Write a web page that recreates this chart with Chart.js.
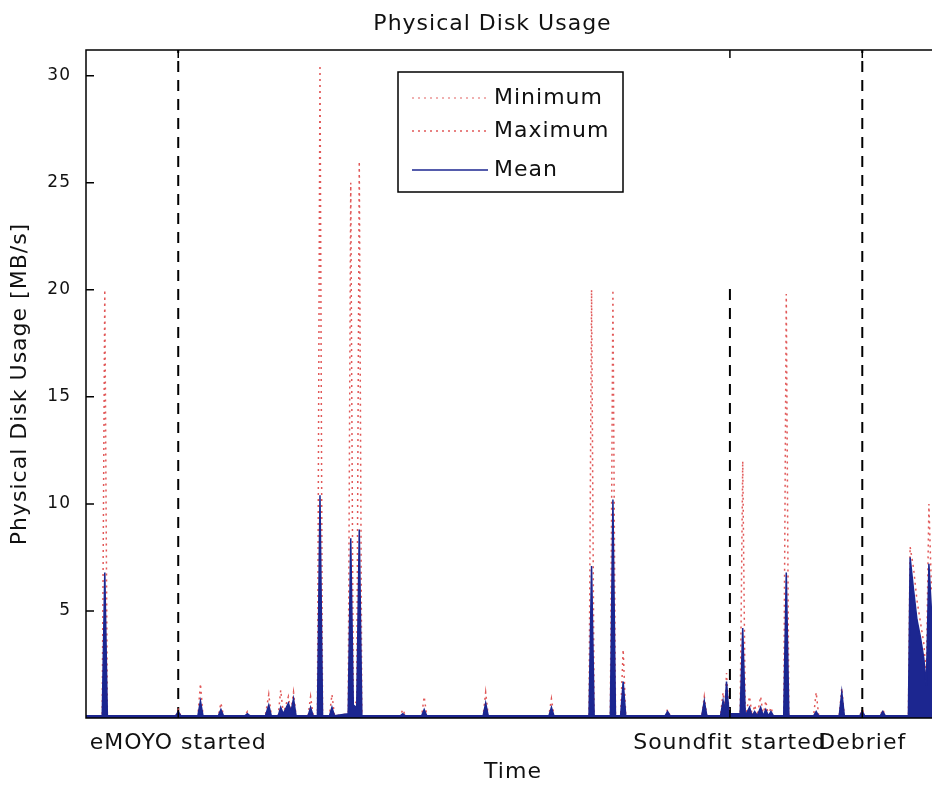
<!DOCTYPE html>
<html>
<head>
<meta charset="utf-8">
<title>Physical Disk Usage</title>
<script src="https://cdn.jsdelivr.net/npm/chart.js@4.4.1/dist/chart.umd.min.js"></script>
<style>
  html, body { margin: 0; padding: 0; background: #fff; overflow: hidden; }
  #wrap { width: 985px; height: 785px; }
</style>
</head>
<body>
<div id="wrap"><canvas id="diskChart" width="985" height="785"></canvas></div>
<script>
// time axis (minutes into the session) and the three measured series
const times = [
  0.0, 1.9, 2.2, 2.5, 10.5, 10.8, 11.1, 13.1, 13.4, 13.7,
  15.5, 15.8, 16.1, 18.6, 18.9, 19.2, 21.0, 21.4, 21.7, 22.5,
  22.8, 23.1, 23.7, 24.0, 24.3, 24.6, 26.0, 26.3, 26.6, 27.1,
  27.4, 27.7, 28.5, 28.8, 29.1, 30.7, 31.0, 31.3, 31.7, 32.0,
  32.3, 36.8, 37.1, 37.4, 39.3, 39.6, 39.9, 46.5, 46.8, 47.1,
  54.2, 54.5, 54.8, 58.9, 59.2, 59.5, 61.4, 61.7, 62.0, 62.6,
  62.9, 63.2, 67.8, 68.1, 68.4, 72.1, 72.4, 72.7, 74.3, 74.6,
  74.8, 75.0, 75.3, 76.6, 76.9, 77.2, 77.7, 78.0, 78.3, 78.6,
  79.0, 79.3, 79.6, 79.9, 80.2, 80.5, 81.7, 82.0, 82.3, 85.2,
  85.5, 85.8, 88.2, 88.5, 88.8, 90.6, 90.9, 91.2, 93.0, 93.3,
  93.6, 96.3, 96.5, 96.9, 97.3, 97.7, 98.1, 98.4, 98.7, 99.0,
  100
];
const meanUsage = [
  0.1, 0.1, 6.8, 0.1, 0.1, 0.3, 0.1, 0.1, 0.8, 0.1,
  0.1, 0.4, 0.1, 0.1, 0.2, 0.1, 0.1, 0.6, 0.1, 0.1,
  0.5, 0.2, 0.7, 0.3, 0.9, 0.1, 0.1, 0.5, 0.1, 0.1,
  10.4, 0.1, 0.1, 0.5, 0.1, 0.2, 8.4, 0.6, 0.5, 8.8,
  0.1, 0.1, 0.2, 0.1, 0.1, 0.4, 0.1, 0.1, 0.7, 0.1,
  0.1, 0.5, 0.1, 0.1, 7.1, 0.1, 0.1, 10.2, 0.1, 0.1,
  1.7, 0.1, 0.1, 0.3, 0.1, 0.1, 0.8, 0.1, 0.1, 0.8,
  0.3, 1.7, 0.2, 0.2, 4.2, 0.1, 0.5, 0.1, 0.3, 0.1,
  0.5, 0.1, 0.4, 0.1, 0.3, 0.1, 0.1, 6.8, 0.1, 0.1,
  0.3, 0.1, 0.1, 1.2, 0.1, 0.1, 0.3, 0.1, 0.1, 0.3,
  0.1, 0.1, 7.5, 6.0, 4.6, 3.8, 2.8, 1.5, 7.2, 5.0,
  4.0
];
const minUsage = [
  0.0, 0.0, 2.5, 0.0, 0.0, 0.1, 0.0, 0.0, 0.3, 0.0,
  0.0, 0.1, 0.0, 0.0, 0.1, 0.0, 0.0, 0.2, 0.0, 0.0,
  0.2, 0.1, 0.3, 0.1, 0.4, 0.0, 0.0, 0.2, 0.0, 0.0,
  4.0, 0.0, 0.0, 0.2, 0.0, 0.1, 3.0, 0.2, 0.2, 3.2,
  0.0, 0.0, 0.1, 0.0, 0.0, 0.1, 0.0, 0.0, 0.3, 0.0,
  0.0, 0.2, 0.0, 0.0, 2.5, 0.0, 0.0, 4.0, 0.0, 0.0,
  0.6, 0.0, 0.0, 0.1, 0.0, 0.0, 0.3, 0.0, 0.0, 0.3,
  0.1, 0.5, 0.1, 0.1, 1.5, 0.0, 0.2, 0.0, 0.1, 0.0,
  0.2, 0.0, 0.1, 0.0, 0.1, 0.0, 0.0, 2.5, 0.0, 0.0,
  0.1, 0.0, 0.0, 0.4, 0.0, 0.0, 0.1, 0.0, 0.0, 0.1,
  0.0, 0.0, 2.5, 2.0, 1.5, 1.2, 0.9, 0.5, 2.4, 1.6,
  1.3
];
const maxUsage = [
  0.1, 0.1, 20.0, 0.1, 0.1, 0.4, 0.1, 0.1, 1.6, 0.1,
  0.1, 0.7, 0.1, 0.1, 0.3, 0.1, 0.1, 1.1, 0.1, 0.1,
  1.3, 0.2, 1.0, 0.3, 1.2, 0.1, 0.1, 1.0, 0.1, 0.1,
  30.5, 0.1, 0.1, 1.1, 0.1, 0.2, 25.0, 0.8, 0.7, 26.0,
  0.1, 0.1, 0.4, 0.1, 0.1, 1.0, 0.1, 0.1, 1.2, 0.1,
  0.1, 0.9, 0.1, 0.1, 20.0, 0.1, 0.1, 20.0, 0.1, 0.1,
  3.2, 0.1, 0.1, 0.4, 0.1, 0.1, 1.0, 0.1, 0.1, 1.2,
  0.3, 2.1, 0.2, 0.2, 12.0, 0.1, 1.0, 0.1, 0.6, 0.1,
  1.0, 0.1, 0.8, 0.1, 0.5, 0.1, 0.1, 19.8, 0.1, 0.1,
  1.2, 0.1, 0.1, 1.4, 0.1, 0.1, 0.4, 0.1, 0.1, 0.4,
  0.1, 0.1, 8.0, 7.0, 5.5, 4.5, 3.5, 2.0, 10.0, 6.0,
  5.0
];

// session events shown as dashed markers and as x tick labels
const eventTimes = [10.8, 75.4, 90.9];
const eventLabels = ['eMOYO started', 'Soundfit started', 'Debrief'];
const eventTops = [31.2, 20.4, 31.2];
const yTickValues = [5, 10, 15, 20, 25, 30];

const FONT = 'DejaVu Sans';
const TEXT_SIZE = 22;
const MEAN_BLUE = '#1c2690';

function toPoints(values) {
  return times.map((t, i) => ({ x: t, y: values[i] }));
}

// the original text is rendered quite wide, a bit of spacing gets us close
const wideText = {
  id: 'wideText',
  beforeDraw(chart) {
    chart.ctx.letterSpacing = '1px';
  }
};

// box around the axes plus matlab style inward ticks
const frameTicks = {
  id: 'frameTicks',
  afterDraw(chart) {
    const { ctx, chartArea: a, scales } = chart;
    ctx.save();
    ctx.strokeStyle = '#000';
    ctx.lineWidth = 1.5;
    ctx.beginPath();
    ctx.moveTo(a.right, a.top);
    ctx.lineTo(a.left, a.top);
    ctx.lineTo(a.left, a.bottom);
    ctx.lineTo(a.right, a.bottom);
    yTickValues.forEach(v => {
      const y = scales.y.getPixelForValue(v);
      ctx.moveTo(a.left, y);
      ctx.lineTo(a.left + 8, y);
    });
    eventTimes.forEach(v => {
      const x = scales.x.getPixelForValue(v);
      ctx.moveTo(x, a.top);
      ctx.lineTo(x, a.top + 8);
      ctx.moveTo(x, a.bottom);
      ctx.lineTo(x, a.bottom - 8);
    });
    ctx.stroke();
    ctx.restore();
  }
};

// legend box sitting inside the plot like the matlab one
const boxLegend = {
  id: 'boxLegend',
  afterDraw(chart) {
    const { ctx, chartArea: a } = chart;
    const x0 = a.left + 312, y0 = a.top + 22, w = 225, h = 120;
    const rowY = [26, 59, 98];
    ctx.save();
    ctx.fillStyle = '#fff';
    ctx.fillRect(x0, y0, w, h);
    ctx.strokeStyle = '#000';
    ctx.lineWidth = 1.5;
    ctx.strokeRect(x0, y0, w, h);
    ctx.font = TEXT_SIZE + 'px "' + FONT + '"';
    ctx.textBaseline = 'middle';
    ctx.textAlign = 'left';
    for (let i = 0; i < 3; i++) {
      const ds = chart.data.datasets[i];
      const y = y0 + rowY[i];
      ctx.strokeStyle = ds.borderColor;
      ctx.lineWidth = ds.borderWidth;
      ctx.setLineDash(ds.borderDash || []);
      ctx.beginPath();
      ctx.moveTo(x0 + 14, y);
      ctx.lineTo(x0 + 90, y);
      ctx.stroke();
      ctx.setLineDash([]);
      ctx.fillStyle = '#111';
      ctx.fillText(ds.label, x0 + 96, y);
    }
    ctx.restore();
  }
};

const datasets = [
  {
    label: 'Minimum',
    data: toPoints(minUsage),
    borderColor: 'rgba(232,130,130,0.85)',
    borderDash: [2, 4],
    borderWidth: 1.5,
    pointRadius: 0,
    fill: false,
    order: 1
  },
  {
    label: 'Maximum',
    data: toPoints(maxUsage),
    borderColor: 'rgba(222,70,70,0.9)',
    borderDash: [2, 4],
    borderWidth: 1.5,
    pointRadius: 0,
    fill: false,
    order: 2
  },
  {
    label: 'Mean',
    data: toPoints(meanUsage),
    borderColor: MEAN_BLUE,
    backgroundColor: MEAN_BLUE,
    borderWidth: 1.5,
    pointRadius: 0,
    fill: 'origin',
    order: 0
  }
];

eventTimes.forEach((t, i) => {
  datasets.push({
    label: eventLabels[i],
    data: [{ x: t, y: 0 }, { x: t, y: eventTops[i] }],
    borderColor: '#000',
    borderDash: [11, 8],
    borderWidth: 2,
    pointRadius: 0,
    fill: false,
    order: 3
  });
});

new Chart(document.getElementById('diskChart'), {
  type: 'line',
  data: { datasets },
  options: {
    responsive: false,
    animation: false,
    layout: { padding: 0 },
    plugins: {
      legend: { display: false },
      tooltip: { enabled: false },
      title: {
        display: true,
        text: 'Physical Disk Usage',
        color: '#111',
        font: { family: FONT, size: TEXT_SIZE, weight: 'normal' },
        padding: { top: 11, bottom: 12.6 }
      }
    },
    scales: {
      x: {
        type: 'linear',
        min: 0,
        max: 100,
        grid: { display: false, drawTicks: false },
        border: { display: false },
        afterBuildTicks: s => { s.ticks = eventTimes.map(v => ({ value: v })); },
        afterFit: s => { s.height = 67; },
        ticks: {
          autoSkip: false,
          maxRotation: 0,
          padding: 12,
          color: '#111',
          font: { family: FONT, size: TEXT_SIZE },
          callback: v => {
            const k = eventTimes.indexOf(v);
            return k >= 0 ? eventLabels[k] : '';
          }
        },
        title: {
          display: true,
          text: 'Time',
          color: '#111',
          font: { family: FONT, size: TEXT_SIZE },
          padding: { top: 0, bottom: 0 }
        }
      },
      y: {
        min: 0,
        max: 31.2,
        grid: { display: false, drawTicks: false },
        border: { display: false },
        afterBuildTicks: s => { s.ticks = yTickValues.map(v => ({ value: v })); },
        afterFit: s => { s.width = 86; },
        ticks: {
          padding: 15,
          color: '#111',
          font: { family: FONT, size: 17 }
        },
        title: {
          display: true,
          text: 'Physical Disk Usage [MB/s]',
          color: '#111',
          font: { family: FONT, size: TEXT_SIZE },
          padding: { top: 7, bottom: 0 }
        }
      },
      // empty right axis, only reserves room so the plot runs past the window edge
      yRight: {
        position: 'right',
        grid: { display: false, drawTicks: false },
        border: { display: false },
        ticks: { display: false },
        afterFit: s => { s.width = 45; }
      }
    }
  },
  plugins: [wideText, frameTicks, boxLegend]
});
</script>
</body>
</html>
